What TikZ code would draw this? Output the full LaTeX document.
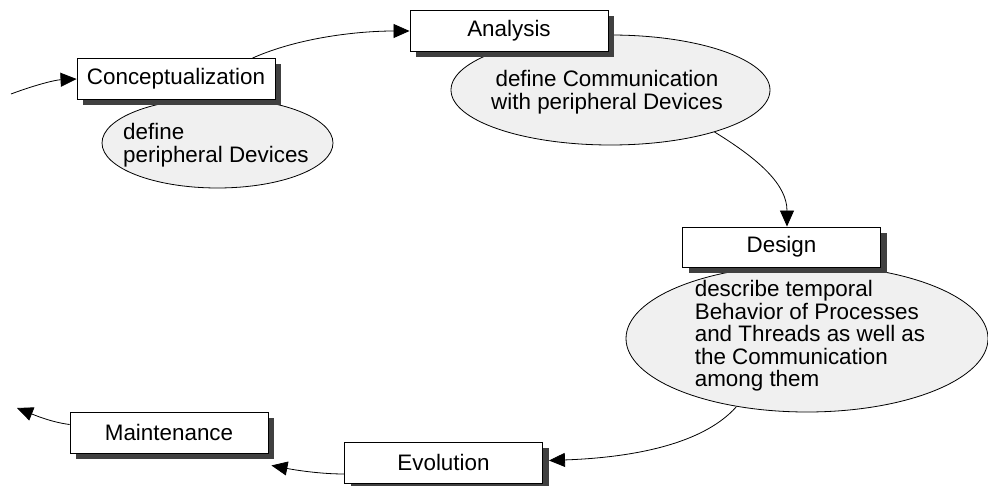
\documentclass[tikz,border=0pt]{standalone}
\usepackage{fontspec}
\setmainfont{Liberation Sans}
\usetikzlibrary{shapes.geometric,shadows,arrows.meta,calc}
\definecolor{shadowgray}{HTML}{404040}
\definecolor{notefill}{HTML}{F0F0F0}
\tikzset{
  labelfont/.style={font=\fontsize{22.4}{22.6}\selectfont},
  phase/.style={draw, fill=white, line width=0.9pt, minimum width=198pt,
    minimum height=41pt, inner sep=0pt, labelfont,
    drop shadow={shadow xshift=6pt, shadow yshift=-6pt, fill=shadowgray, opacity=1}},
  note/.style={ellipse, draw, fill=notefill, line width=0.8pt, inner sep=0pt},
  notetext/.style={inner sep=0pt, labelfont},
  flow/.style={line width=0.8pt, -{Triangle[length=16pt,width=14pt]}}
}
\begin{document}
\begin{tikzpicture}[x=1pt,y=-1pt]
\useasboundingbox (0,0) rectangle (988,486);

% activity notes (ellipses) below the phase boxes
\node[note, minimum width=231pt, minimum height=90pt] (e1) at (217.5,143) {};
\node[notetext, align=left] (t1) at (216,145.5) {define\\peripheral Devices};

\node[note, minimum width=319pt, minimum height=110pt] (e2) at (610.5,90) {};
\node[notetext, align=center] (t2) at (607,92) {define Communication\\with peripheral Devices};

\node[note, minimum width=362pt, minimum height=147pt] (e3) at (807,338.5) {};
\node[notetext, align=left] (t3) at (810,336) {describe temporal\\Behavior of Processes\\and Threads as well as\\the Communication\\among them};

% phase boxes with solid drop shadows
\node[phase] (concept) at (176,79) {Conceptualization};
\node[phase] (analysis) at (509,31) {Analysis};
\node[phase, minimum height=40pt] (design) at (781.5,247) {Design};
\node[phase] (evolution) at (443.5,462.5) {Evolution};
\node[phase] (maint) at (169,432.5) {Maintenance};

% free ends of the cycle
\coordinate (inflow) at (11,94);
\coordinate (outflow) at (17,408);

% connectors
\draw[flow] (inflow) .. controls (35,85) and (55,80) .. (concept.west);
\draw[flow] ($(concept.north west)+(176,0)$) .. controls (300,37) and (360,31) .. (analysis.west);
\draw[flow] (e2.-22) .. controls (760,160) and (787,185) .. ($(design.north)+(5.5,0)$);
\draw[flow] (e3.-136) .. controls (700,448) and (620,458) .. ($(evolution.east)+(6,-2)$);
\draw[flow] ($(evolution.west)+(0,11.5)$) .. controls (320,474) and (295,470) .. ($(maint.south east)+(3,12)$);
\draw[flow] ($(maint.west)+(0,-8)$) .. controls (50,422) and (32,414) .. (outflow);
\end{tikzpicture}
\end{document}
